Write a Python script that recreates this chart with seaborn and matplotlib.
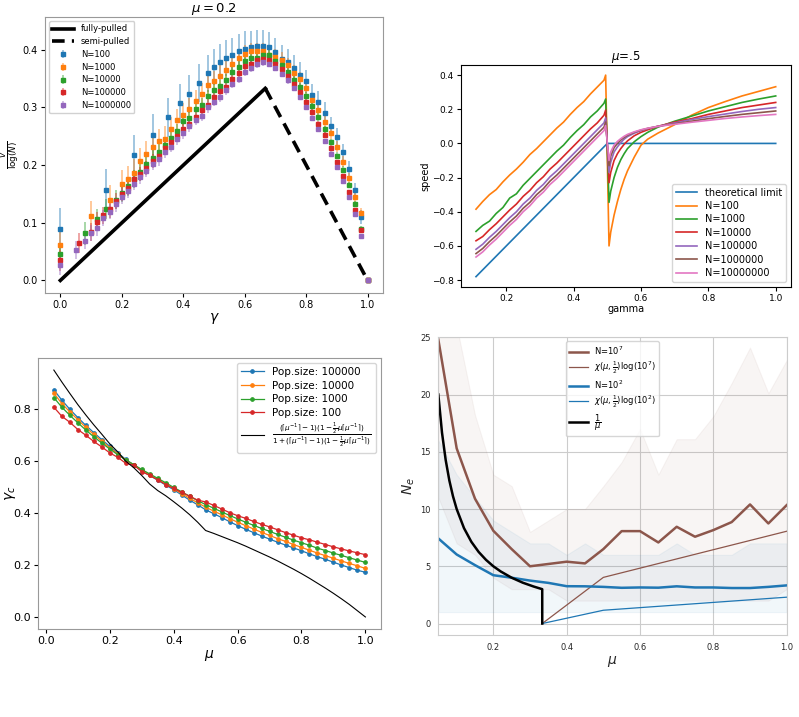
import numpy as np
import matplotlib
matplotlib.use("Agg")
import matplotlib.pyplot as plt
import seaborn as sns

# ---------------- panel 1 data (mu = 0.2) ----------------
gamma_tail = [0.20, 0.22, 0.24, 0.26, 0.28, 0.30, 0.32, 0.34, 0.36, 0.38,
              0.40, 0.42, 0.44, 0.46, 0.48, 0.50, 0.52, 0.54, 0.56, 0.58,
              0.60, 0.62, 0.64, 0.66, 0.68, 0.70, 0.72, 0.74, 0.76, 0.78,
              0.80, 0.82, 0.84, 0.86, 0.88, 0.90, 0.92, 0.94, 0.96, 0.98, 1.0]

g_n100 = [0.0, 0.15, 0.24, 0.30, 0.35, 0.39, 0.42, 0.45, 0.48, 0.50,
          0.52, 0.54, 0.56, 0.58, 0.60, 0.62, 0.64, 0.66, 0.68, 0.70,
          0.72, 0.74, 0.76, 0.78, 0.80, 0.82, 0.84, 0.86, 0.88, 0.90,
          0.92, 0.94, 0.96, 0.98, 1.0]
v_n100 = [0.089, 0.157, 0.217, 0.253, 0.283, 0.307, 0.323, 0.342, 0.359, 0.370,
          0.379, 0.385, 0.391, 0.397, 0.402, 0.404, 0.407, 0.407, 0.404, 0.396,
          0.384, 0.378, 0.368, 0.357, 0.345, 0.322, 0.310, 0.291, 0.267, 0.248,
          0.222, 0.193, 0.156, 0.110, 0.0]
e_n100 = [0.036, 0.036, 0.035, 0.035, 0.034, 0.034, 0.033, 0.033, 0.032, 0.032,
          0.031, 0.031, 0.03, 0.03, 0.03, 0.029, 0.028, 0.028, 0.026, 0.025,
          0.024, 0.023, 0.022, 0.021, 0.02, 0.019, 0.018, 0.018, 0.017, 0.016,
          0.015, 0.014, 0.013, 0.012, 0.0]

g_n1e3 = [0.0, 0.10, 0.16] + gamma_tail
v_n1e3 = [0.062, 0.112, 0.140,
          0.167, 0.175, 0.187, 0.207, 0.220, 0.232, 0.241, 0.246, 0.263, 0.278,
          0.287, 0.297, 0.311, 0.324, 0.338, 0.345, 0.355, 0.365, 0.375, 0.385,
          0.392, 0.397, 0.397, 0.397, 0.390, 0.388, 0.383, 0.373, 0.360, 0.350,
          0.334, 0.313, 0.295, 0.275, 0.255, 0.232, 0.206, 0.177, 0.145, 0.117,
          0.0]
e_n1e3 = [0.025, 0.025, 0.025,
          0.024, 0.024, 0.023, 0.023, 0.022, 0.022, 0.022, 0.021, 0.021, 0.02,
          0.02, 0.02, 0.019, 0.019, 0.018, 0.018, 0.018, 0.017, 0.017, 0.016,
          0.016, 0.015, 0.015, 0.015, 0.014, 0.014, 0.013, 0.013, 0.013, 0.012,
          0.012, 0.012, 0.011, 0.011, 0.01, 0.01, 0.01, 0.009, 0.009, 0.008,
          0.0]

g_n1e4 = [0.0, 0.08, 0.12, 0.15, 0.18] + gamma_tail
v_n1e4 = [0.045, 0.082, 0.106, 0.124, 0.140,
          0.152, 0.163, 0.176, 0.188, 0.202, 0.213, 0.223, 0.235, 0.247, 0.259,
          0.277, 0.281, 0.298, 0.305, 0.320, 0.330, 0.337, 0.348, 0.362, 0.370,
          0.381, 0.385, 0.386, 0.391, 0.390, 0.380, 0.373, 0.362, 0.348, 0.335,
          0.320, 0.303, 0.283, 0.262, 0.240, 0.216, 0.192, 0.165, 0.132, 0.090,
          0.0]
e_n1e4 = [0.02, 0.02, 0.018, 0.018, 0.017,
          0.016, 0.016, 0.015, 0.015, 0.015, 0.014, 0.014, 0.014, 0.013, 0.013,
          0.013, 0.012, 0.012, 0.012, 0.011, 0.011, 0.011, 0.01, 0.01, 0.01,
          0.01, 0.009, 0.009, 0.009, 0.009, 0.008, 0.008, 0.008, 0.008, 0.007,
          0.007, 0.007, 0.007, 0.006, 0.006, 0.006, 0.006, 0.005, 0.005, 0.005,
          0.0]

g_n1e5 = [0.0, 0.06, 0.10, 0.12, 0.14, 0.16, 0.18] + gamma_tail
v_n1e5 = [0.035, 0.065, 0.084, 0.102, 0.113, 0.123, 0.138,
          0.150, 0.161, 0.175, 0.184, 0.195, 0.207, 0.216, 0.229, 0.240, 0.250,
          0.263, 0.272, 0.284, 0.295, 0.305, 0.318, 0.328, 0.335, 0.350, 0.360,
          0.372, 0.375, 0.382, 0.384, 0.383, 0.376, 0.366, 0.355, 0.340, 0.326,
          0.310, 0.292, 0.272, 0.252, 0.230, 0.205, 0.181, 0.153, 0.122, 0.087,
          0.0]
e_n1e5 = [0.018, 0.017, 0.016, 0.016, 0.015, 0.015, 0.014,
          0.013, 0.013, 0.013, 0.012, 0.012, 0.012, 0.011, 0.011, 0.011, 0.01,
          0.01, 0.01, 0.01, 0.009, 0.009, 0.009, 0.009, 0.008, 0.008, 0.008,
          0.008, 0.007, 0.007, 0.007, 0.007, 0.006, 0.006, 0.006, 0.006, 0.006,
          0.005, 0.005, 0.005, 0.005, 0.005, 0.004, 0.004, 0.004, 0.004, 0.004,
          0.0]

g_n1e6 = [0.0, 0.05, 0.08, 0.10, 0.12, 0.14, 0.16, 0.18] + gamma_tail
v_n1e6 = [0.026, 0.053, 0.069, 0.082, 0.091, 0.108, 0.119, 0.132,
          0.145, 0.155, 0.168, 0.180, 0.190, 0.202, 0.210, 0.222, 0.232, 0.245,
          0.255, 0.267, 0.278, 0.285, 0.300, 0.310, 0.318, 0.330, 0.341, 0.350,
          0.362, 0.368, 0.375, 0.378, 0.376, 0.369, 0.358, 0.347, 0.333, 0.318,
          0.300, 0.282, 0.263, 0.242, 0.220, 0.197, 0.172, 0.145, 0.115, 0.077,
          0.0]
e_n1e6 = [0.016, 0.015, 0.015, 0.014, 0.014, 0.014, 0.013, 0.013,
          0.013, 0.012, 0.012, 0.012, 0.011, 0.011, 0.011, 0.01, 0.01, 0.01,
          0.01, 0.009, 0.009, 0.009, 0.009, 0.008, 0.008, 0.008, 0.008, 0.007,
          0.007, 0.007, 0.007, 0.006, 0.006, 0.006, 0.006, 0.006, 0.005, 0.005,
          0.005, 0.005, 0.005, 0.004, 0.004, 0.004, 0.004, 0.004, 0.003, 0.003,
          0.0]

pulled_x = [0.0, 0.667]
pulled_y = [0.0, 0.333]
semi_x = [0.667, 1.0]
semi_y = [0.333, 0.0]

# ---------------- panel 2 data (mu = .5) ----------------
g2 = [0.11, 0.13, 0.15, 0.17, 0.19, 0.21, 0.23, 0.25, 0.27, 0.29,
      0.31, 0.33, 0.35, 0.37, 0.39, 0.41, 0.43, 0.45, 0.47, 0.49,
      0.495, 0.505, 0.51, 0.52, 0.53, 0.54, 0.55, 0.56, 0.58, 0.60,
      0.62, 0.65, 0.70, 0.75, 0.80, 0.85, 0.90, 0.95, 1.0]
theory_x = [0.11, 0.5, 1.0]
theory_y = [-0.78, 0.0, 0.0]
sp_100 = [-0.385, -0.34, -0.30, -0.27, -0.225, -0.185, -0.15, -0.11, -0.065, -0.03,
          0.01, 0.05, 0.09, 0.125, 0.17, 0.21, 0.245, 0.29, 0.33, 0.37,
          0.40, -0.60, -0.52, -0.42, -0.34, -0.27, -0.21, -0.16, -0.08, -0.01,
          0.025, 0.06, 0.11, 0.165, 0.21, 0.245, 0.278, 0.305, 0.332]
sp_1e3 = [-0.515, -0.48, -0.455, -0.41, -0.375, -0.32, -0.295, -0.245, -0.205, -0.165,
          -0.125, -0.085, -0.045, -0.01, 0.035, 0.075, 0.11, 0.155, 0.19, 0.235,
          0.26, -0.345, -0.28, -0.20, -0.14, -0.095, -0.06, -0.03, 0.01, 0.04,
          0.065, 0.095, 0.13, 0.16, 0.19, 0.215, 0.24, 0.26, 0.278]
sp_1e4 = [-0.57, -0.545, -0.505, -0.47, -0.43, -0.39, -0.355, -0.31, -0.275, -0.23,
          -0.195, -0.15, -0.115, -0.075, -0.035, 0.005, 0.045, 0.085, 0.12, 0.165,
          0.195, -0.23, -0.17, -0.10, -0.06, -0.03, -0.005, 0.015, 0.045, 0.065,
          0.08, 0.10, 0.125, 0.145, 0.17, 0.19, 0.21, 0.225, 0.24]
sp_1e5 = [-0.62, -0.59, -0.55, -0.515, -0.475, -0.435, -0.40, -0.355, -0.32, -0.275,
          -0.24, -0.195, -0.16, -0.12, -0.08, -0.04, 0.0, 0.04, 0.08, 0.12,
          0.15, -0.17, -0.11, -0.05, -0.02, 0.005, 0.025, 0.04, 0.06, 0.075,
          0.087, 0.10, 0.12, 0.14, 0.157, 0.172, 0.187, 0.20, 0.21]
sp_1e6 = [-0.645, -0.615, -0.575, -0.54, -0.50, -0.46, -0.425, -0.38, -0.345, -0.30,
          -0.265, -0.22, -0.185, -0.145, -0.105, -0.065, -0.025, 0.015, 0.055, 0.095,
          0.125, -0.13, -0.075, -0.025, 0.0, 0.02, 0.035, 0.048, 0.065, 0.078,
          0.088, 0.10, 0.115, 0.13, 0.145, 0.158, 0.17, 0.18, 0.19]
sp_1e7 = [-0.665, -0.635, -0.595, -0.56, -0.52, -0.48, -0.445, -0.40, -0.365, -0.32,
          -0.285, -0.24, -0.205, -0.165, -0.125, -0.085, -0.045, -0.005, 0.035, 0.075,
          0.105, -0.10, -0.05, -0.01, 0.012, 0.028, 0.042, 0.053, 0.068, 0.08,
          0.089, 0.10, 0.112, 0.124, 0.135, 0.146, 0.155, 0.163, 0.17]

# ---------------- panel 3 data (gamma_c vs mu) ----------------
mu3 = [0.025, 0.05, 0.075, 0.1, 0.125, 0.15, 0.175, 0.2, 0.225, 0.25,
       0.275, 0.3, 0.325, 0.35, 0.375, 0.4, 0.425, 0.45, 0.475, 0.5,
       0.525, 0.55, 0.575, 0.6, 0.625, 0.65, 0.675, 0.7, 0.725, 0.75,
       0.775, 0.8, 0.825, 0.85, 0.875, 0.9, 0.925, 0.95, 0.975, 1.0]
gc_1e5 = [0.875, 0.835, 0.800, 0.768, 0.738, 0.710, 0.683, 0.657, 0.632, 0.607,
          0.585, 0.563, 0.545, 0.527, 0.508, 0.490, 0.470, 0.450, 0.432, 0.413,
          0.398, 0.383, 0.367, 0.352, 0.338, 0.325, 0.312, 0.300, 0.288, 0.277,
          0.266, 0.255, 0.243, 0.232, 0.222, 0.211, 0.200, 0.190, 0.180, 0.172]
gc_1e4 = [0.862, 0.822, 0.790, 0.760, 0.730, 0.703, 0.677, 0.652, 0.628, 0.605,
          0.586, 0.566, 0.548, 0.530, 0.512, 0.494, 0.475, 0.457, 0.440, 0.423,
          0.408, 0.394, 0.379, 0.365, 0.352, 0.339, 0.326, 0.314, 0.302, 0.291,
          0.279, 0.268, 0.257, 0.246, 0.236, 0.226, 0.216, 0.206, 0.197, 0.187]
gc_1e3 = [0.845, 0.808, 0.777, 0.748, 0.720, 0.694, 0.670, 0.647, 0.625, 0.605,
          0.587, 0.568, 0.551, 0.534, 0.517, 0.499, 0.482, 0.465, 0.448, 0.433,
          0.419, 0.405, 0.391, 0.378, 0.365, 0.353, 0.341, 0.330, 0.318, 0.307,
          0.296, 0.286, 0.276, 0.265, 0.256, 0.246, 0.237, 0.228, 0.219, 0.210]
gc_100 = [0.808, 0.773, 0.750, 0.722, 0.700, 0.676, 0.655, 0.632, 0.615, 0.592,
          0.585, 0.560, 0.545, 0.528, 0.510, 0.495, 0.480, 0.465, 0.450, 0.443,
          0.430, 0.416, 0.402, 0.390, 0.380, 0.368, 0.357, 0.347, 0.336, 0.325,
          0.315, 0.305, 0.297, 0.288, 0.279, 0.270, 0.262, 0.254, 0.247, 0.240]
gc_theory = [0.951, 0.905, 0.861, 0.818, 0.778, 0.740, 0.704, 0.667, 0.636, 0.600,
             0.575, 0.545, 0.512, 0.487, 0.467, 0.444, 0.420, 0.394, 0.365, 0.333,
             0.322, 0.310, 0.298, 0.286, 0.273, 0.259, 0.245, 0.231, 0.216, 0.200,
             0.184, 0.167, 0.149, 0.130, 0.111, 0.091, 0.070, 0.048, 0.024, 0.0]

# ---------------- panel 4 data (N_e vs mu) ----------------
mu4 = [0.05, 0.10, 0.15, 0.20, 0.25, 0.30, 0.35, 0.40, 0.45, 0.50,
       0.55, 0.60, 0.65, 0.70, 0.75, 0.80, 0.85, 0.90, 0.95, 1.0]
ne_1e7 = [24.8, 15.3, 10.9, 8.1, 6.5, 5.0, 5.2, 5.4, 5.25, 6.5,
          8.07, 8.07, 7.08, 8.45, 7.58, 8.16, 8.86, 10.4, 8.74, 10.34]
ne_1e7_hi = [32, 26, 18.2, 13.0, 12.0, 8.0, 9.0, 10.0, 10.0, 12.0,
             14.1, 17.0, 13.0, 16.1, 16.1, 18.1, 21.0, 24.1, 20.1, 23.0]
ne_1e7_lo = [11, 7, 6, 4, 3, 3, 3, 2, 2, 2,
             2, 2, 2, 2, 2, 2, 2, 2, 2, 3]
ne_1e2 = [7.43, 6.03, 5.1, 4.22, 4.0, 3.75, 3.55, 3.26, 3.25, 3.2,
          3.12, 3.15, 3.13, 3.25, 3.15, 3.15, 3.1, 3.1, 3.2, 3.33]
ne_1e2_hi = [16, 13, 11, 9, 8, 7, 7, 6, 7, 6,
             6, 6, 6, 7, 6, 6, 6, 7, 7, 7]
ne_1e2_lo = [1, 1, 1, 1, 1, 1, 1, 1, 1, 1,
             1, 1, 1, 1, 1, 1, 1, 1, 1, 1]
chi_x = [0.3334, 0.5, 1.0]
chi_1e7 = [0.0, 4.03, 8.06]
chi_1e2 = [0.0, 1.16, 2.3]
inv_mu_x = [0.05, 0.06, 0.07, 0.08, 0.09, 0.10, 0.12, 0.14, 0.16, 0.18,
            0.20, 0.22, 0.25, 0.28, 0.31, 0.3333, 0.3334]
inv_mu_y = [20.0, 16.67, 14.29, 12.5, 11.11, 10.0, 8.33, 7.14, 6.25, 5.56,
            5.0, 4.55, 4.0, 3.57, 3.23, 3.0, 0.0]

pal = sns.color_palette("tab10")
blue, orange, green, red, purple, brown, pink = pal[0], pal[1], pal[2], pal[3], pal[4], pal[5], pal[6]

fig = plt.figure(figsize=(7.99, 7.17), dpi=100)

# ---------- top left ----------
ax1 = fig.add_axes([0.0563, 0.5914, 0.4230, 0.3849])
sns.lineplot(x=pulled_x, y=pulled_y, color="black", lw=2.6, label="fully-pulled", ax=ax1)
sns.lineplot(x=semi_x, y=semi_y, color="black", lw=2.6, ls=(0, (3.5, 2)), label="semi-pulled", ax=ax1)
series1 = [(g_n100, v_n100, e_n100, "N=100", blue),
           (g_n1e3, v_n1e3, e_n1e3, "N=1000", orange),
           (g_n1e4, v_n1e4, e_n1e4, "N=10000", green),
           (g_n1e5, v_n1e5, e_n1e5, "N=100000", red),
           (g_n1e6, v_n1e6, e_n1e6, "N=1000000", purple)]
for gx, vy, ey, lab, c in series1:
    eb = ax1.errorbar(gx, vy, yerr=ey, fmt="s", ms=2.3, color=c, ecolor=c,
                      elinewidth=1.3, label=lab)
    for bar in eb[2]:
        bar.set_alpha(0.45)
ax1.set_title(r"$\mu = 0.2$", fontsize=9.5, pad=2)
ax1.set_xlabel(r"$\gamma$", fontsize=10, labelpad=1)
ax1.set_ylabel(r"$\frac{v}{\log(N)}$", fontsize=9)
ax1.yaxis.set_label_coords(-0.072, 0.5)
ax1.tick_params(labelsize=7, length=3, pad=2)
for s in ax1.spines.values():
    s.set_color("0.6")
ax1.legend(loc="upper left", fontsize=6, framealpha=0.9, handlelength=2.6,
           borderpad=0.4, labelspacing=0.45)

# ---------- top right ----------
ax2 = fig.add_axes([0.5770, 0.6001, 0.4126, 0.3092])
sns.lineplot(x=theory_x, y=theory_y, color=blue, lw=1.2, label="theoretical limit", ax=ax2)
for vals, lab, c in [(sp_100, "N=100", orange), (sp_1e3, "N=1000", green),
                     (sp_1e4, "N=10000", red), (sp_1e5, "N=100000", purple),
                     (sp_1e6, "N=1000000", brown), (sp_1e7, "N=10000000", pink)]:
    sns.lineplot(x=g2, y=vals, color=c, lw=1.2, label=lab, ax=ax2)
ax2.set_title(r"$\mu$=.5", fontsize=8.5, pad=3)
ax2.set_xlabel("gamma", fontsize=7, labelpad=1)
ax2.set_ylabel("speed", fontsize=7, labelpad=1)
ax2.set_yticks([-0.8, -0.6, -0.4, -0.2, 0.0, 0.2, 0.4])
ax2.tick_params(labelsize=6.5, length=3, pad=2)
ax2.legend(loc="lower right", fontsize=7, handlelength=2.2, labelspacing=0.35)

# ---------- bottom left ----------
ax3 = fig.add_axes([0.0479, 0.1223, 0.4289, 0.3788])
for vals, lab, c in [(gc_1e5, "Pop.size: 100000", blue), (gc_1e4, "Pop.size: 10000", orange),
                     (gc_1e3, "Pop.size: 1000", green), (gc_100, "Pop.size: 100", red)]:
    sns.lineplot(x=mu3, y=vals, color=c, lw=0.9, marker="o", markersize=2.6,
                 markeredgecolor=c, label=lab, ax=ax3)
sns.lineplot(x=mu3, y=gc_theory, color="black", lw=0.8,
             label=r"$\frac{(\lceil\mu^{-1}\rceil-1)(1-\frac{1}{2}\mu\lceil\mu^{-1}\rceil)}"
                   r"{1+(\lceil\mu^{-1}\rceil-1)(1-\frac{1}{2}\mu\lceil\mu^{-1}\rceil)}$",
             ax=ax3)
ax3.set_xlabel(r"$\mu$", fontsize=10, labelpad=1)
ax3.set_ylabel(r"$\gamma_c$", fontsize=10)
ax3.yaxis.set_label_coords(-0.06, 0.5)
ax3.set_yticks([0.0, 0.2, 0.4, 0.6, 0.8])
ax3.tick_params(labelsize=8, length=3, pad=2)
for s in ax3.spines.values():
    s.set_color("0.6")
ax3.legend(loc="upper right", fontsize=7.5, handlelength=2.2, labelspacing=0.35)

# ---------- bottom right ----------
with sns.axes_style("whitegrid"):
    ax4 = fig.add_axes([0.5486, 0.1144, 0.4360, 0.4152])
ax4.fill_between(mu4, ne_1e7_lo, ne_1e7_hi, color=brown, alpha=0.06, lw=0.8)
ax4.fill_between(mu4, ne_1e2_lo, ne_1e2_hi, color=blue, alpha=0.06, lw=0.8)
sns.lineplot(x=mu4, y=ne_1e7, color=brown, lw=1.8, label=r"N=$10^7$", ax=ax4)
sns.lineplot(x=chi_x, y=chi_1e7, color=brown, lw=0.9,
             label=r"$\chi(\mu,\frac{1}{2})\log(10^7)$", ax=ax4)
sns.lineplot(x=mu4, y=ne_1e2, color=blue, lw=1.8, label=r"N=$10^2$", ax=ax4)
sns.lineplot(x=chi_x, y=chi_1e2, color=blue, lw=0.9,
             label=r"$\chi(\mu,\frac{1}{2})\log(10^2)$", ax=ax4)
sns.lineplot(x=inv_mu_x, y=inv_mu_y, color="black", lw=1.8,
             label=r"$\dfrac{1}{\mu}$", ax=ax4)
ax4.set_xlim(0.05, 1.0)
ax4.set_ylim(-1, 25)
ax4.set_xticks([0.2, 0.4, 0.6, 0.8, 1.0])
ax4.set_yticks([0, 5, 10, 15, 20, 25])
ax4.set_xlabel(r"$\mu$", fontsize=10, labelpad=2)
ax4.set_ylabel(r"$N_e$", fontsize=10, labelpad=2)
ax4.tick_params(labelsize=6, pad=2)
ax4.legend(loc="upper center", fontsize=6, handlelength=2.2, labelspacing=0.3)

fig.savefig("out.png", dpi=100)
